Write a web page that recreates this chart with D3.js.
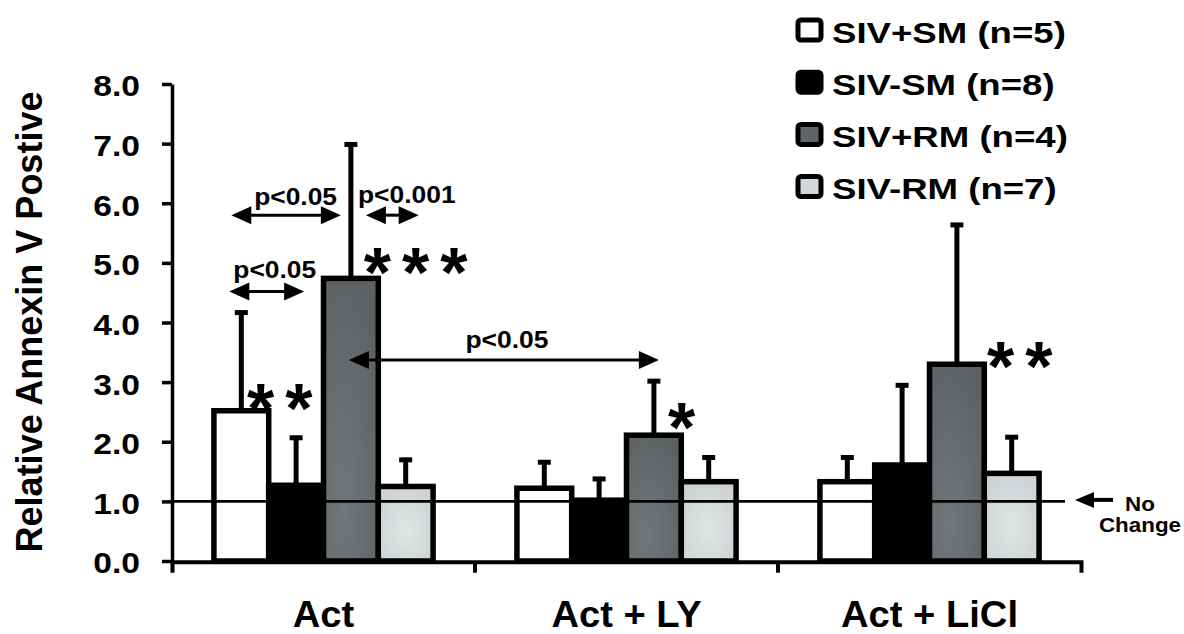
<!DOCTYPE html>
<html><head><meta charset="utf-8">
<script src="https://cdn.jsdelivr.net/npm/d3@7"></script>
<style>
body{margin:0;background:#fff}
svg{display:block}
text{font-family:"Liberation Sans",Arial,sans-serif;font-weight:bold;fill:#000}
</style>
</head><body>
<svg id="c" width="1184" height="634"></svg>
<script>
// ---------- data ----------
const categories = ["Act", "Act + LY", "Act + LiCl"];
const series = ["SIV+SM (n=5)", "SIV-SM (n=8)", "SIV+RM (n=4)", "SIV-RM (n=7)"];
const sivPlusSM  = [2.52, 1.22, 1.33];
const sivMinusSM = [1.27, 1.02, 1.61];
const sivPlusRM  = [4.74, 2.11, 3.30];
const sivMinusRM = [1.25, 1.33, 1.47];
const errPlusSM  = [1.68, 0.47, 0.44];
const errMinusSM = [0.83, 0.39, 1.37];
const errPlusRM  = [2.28, 0.94, 2.37];
const errMinusRM = [0.48, 0.44, 0.64];
const yTicks = [0, 1, 2, 3, 4, 5, 6, 7, 8];
const noChangeValue = 1.0;
const yTitle = "Relative Annexin V Postive";
const noChangeLabel = ["No", "Change"];
// comparisons: bar (category, series index) pairs, arrow height (y value), label
const comparisons = [
  {c1: "Act", s1: 0, c2: "Act", s2: 2, v: 5.80, label: "p<0.05"},
  {c1: "Act", s1: 2, c2: "Act", s2: 3, v: 5.80, label: "p<0.001"},
  {c1: "Act", s1: 0, c2: "Act", s2: 1, v: 4.52, label: "p<0.05"},
  {c1: "Act", s1: 2, c2: "Act + LY", s2: 2, v: 3.37, label: "p<0.05"}
];
// significance stars next to bars (y value of their centre)
const stars = [
  {c: "Act", s: 0, text: "**", v: 2.73},
  {c: "Act", s: 2, text: "***", v: 5.02},
  {c: "Act + LY", s: 2, text: "*", v: 2.42},
  {c: "Act + LiCl", s: 2, text: "**", v: 3.43}
];

const means = [sivPlusSM, sivMinusSM, sivPlusRM, sivMinusRM];
const errs = [errPlusSM, errMinusSM, errPlusRM, errMinusRM];

// ---------- layout ----------
const svg = d3.select("#c");
const x0 = d3.scaleBand().domain(categories).range([172, 1081]).padding(0);
const x1 = d3.scaleBand().domain(d3.range(series.length)).range([0, x0.bandwidth()])
  .paddingInner(0).paddingOuter(0.765);
const y = d3.scaleLinear().domain([0, 8]).range([561, 84]);
const cx = (c, s) => x0(c) + x1(s) + x1.bandwidth() / 2;

const defs = svg.append("defs");
const gDark = defs.append("radialGradient").attr("id", "gDark").attr("cx", "35%").attr("cy", "80%").attr("r", "90%");
gDark.append("stop").attr("offset", "0%").attr("stop-color", "#72777a");
gDark.append("stop").attr("offset", "100%").attr("stop-color", "#5b6062");
const gLight = defs.append("radialGradient").attr("id", "gLight").attr("cx", "50%").attr("cy", "60%").attr("r", "70%");
gLight.append("stop").attr("offset", "0%").attr("stop-color", "#e2e4e5");
gLight.append("stop").attr("offset", "100%").attr("stop-color", "#ccd0d2");
const fills = ["#ffffff", "#000000", "url(#gDark)", "url(#gLight)"];
const legendFills = ["#ffffff", "#000000", "#5f6466", "#d3d6d8"];

svg.append("rect").attr("width", 1184).attr("height", 634).attr("fill", "#fff");

const rows = [];
categories.forEach((c, i) => series.forEach((s, j) => rows.push({c, j, v: means[j][i], e: errs[j][i]})));

// bars
svg.append("g").selectAll("rect").data(rows).join("rect")
  .attr("x", d => x0(d.c) + x1(d.j))
  .attr("y", d => y(d.v))
  .attr("width", x1.bandwidth())
  .attr("height", d => y(0) - y(d.v))
  .attr("fill", d => fills[d.j])
  .attr("stroke", "#000").attr("stroke-width", 5.5);

// no change line
svg.append("line")
  .attr("x1", x0.range()[0]).attr("x2", x0.range()[1] - 16)
  .attr("y1", y(noChangeValue)).attr("y2", y(noChangeValue))
  .attr("stroke", "#000").attr("stroke-width", 2.6);

// error bars
const eg = svg.append("g").attr("stroke", "#000").attr("stroke-width", 5);
eg.selectAll("line.stem").data(rows).join("line").attr("class", "stem")
  .attr("x1", d => cx(d.c, d.j)).attr("x2", d => cx(d.c, d.j))
  .attr("y1", d => y(d.v) - 2).attr("y2", d => y(d.v + d.e));
eg.selectAll("line.cap").data(rows).join("line").attr("class", "cap")
  .attr("x1", d => cx(d.c, d.j) - 6.5).attr("x2", d => cx(d.c, d.j) + 6.5)
  .attr("y1", d => y(d.v + d.e) + 2).attr("y2", d => y(d.v + d.e) + 2);

// y axis
const yAxis = svg.append("g").attr("transform", "translate(172,0)")
  .call(d3.axisLeft(y).tickValues(yTicks).tickFormat(d3.format(".1f")).tickSize(10).tickSizeOuter(0));
yAxis.select(".domain").attr("stroke-width", 3.5);
yAxis.selectAll(".tick line").attr("stroke-width", 3.5);
yAxis.selectAll(".tick text")
  .attr("x", -32 / 1.16).attr("dy", "0.41em")
  .attr("transform", "scale(1.16,1)")
  .style("font-size", "29px").style("font-family", "Liberation Sans, Arial, sans-serif").style("font-weight", "bold");

// x axis
const xAxis = svg.append("g").attr("transform", `translate(0,${y(0) + 0.7})`)
  .call(d3.axisBottom(x0).tickSize(0).tickSizeOuter(11));
xAxis.select(".domain").attr("stroke-width", 4);
xAxis.selectAll(".tick text").remove();
xAxis.selectAll("line.bound").data(categories.slice(1)).join("line").attr("class", "bound")
  .attr("x1", d => x0(d)).attr("x2", d => x0(d)).attr("y1", 0).attr("y2", 11)
  .attr("stroke", "#000").attr("stroke-width", 4);
svg.append("g").selectAll("text").data(categories).join("text")
  .attr("transform", d => `translate(${x0(d) + x0.bandwidth() / 2},626.5) scale(1.06,1)`)
  .attr("text-anchor", "middle").style("font-size", "36px")
  .text(d => d);

// y title
svg.append("text")
  .attr("transform", `translate(41.5,${(y(0) + y(8)) / 2 - 0.5}) rotate(-90)`)
  .attr("text-anchor", "middle").style("font-size", "36px")
  .text(yTitle);

// comparison arrows
const headL = 20, headW = 9;
function arrowHead(g, tipX, yy, dir) {
  g.append("path").attr("d", `M${tipX},${yy}L${tipX + dir * headL},${yy - headW}L${tipX + dir * headL},${yy + headW}Z`)
    .attr("fill", "#000");
}
const offs = [[-10, -10, 9.5, 10], [15, 13, 14.5, 12], [-12, 8, 8, 13.5], [-2, 5, 3, 12]];
const ag = svg.append("g");
comparisons.forEach((cmp, i) => {
  const xa = cx(cmp.c1, cmp.s1) + offs[i][0];
  const xb = cx(cmp.c2, cmp.s2) + offs[i][1];
  const yy = y(cmp.v);
  ag.append("line").attr("x1", xa + headL - 2).attr("x2", xb - headL + 2).attr("y1", yy).attr("y2", yy)
    .attr("stroke", "#000").attr("stroke-width", 3);
  arrowHead(ag, xa, yy, 1);
  arrowHead(ag, xb, yy, -1);
  ag.append("text")
    .attr("transform", `translate(${(xa + xb) / 2 + offs[i][2]},${yy - offs[i][3]}) scale(1.1,1)`)
    .attr("text-anchor", "middle").style("font-size", "24px").text(cmp.label);
});

// stars
const starDx = [8.7, 15.8, 17, 33];
svg.append("g").selectAll("text").data(stars).join("text")
  .attr("x", (d, i) => cx(d.c, d.s) + starDx[i] - 3)
  .attr("y", d => y(d.v) + 35)
  .style("font-size", "70px").style("font-weight", "bold").style("letter-spacing", "11px")
  .text(d => d.text);

// no change marker
const xe = x0.range()[1];
const ny = y(noChangeValue) - 1.5;
svg.append("line").attr("x1", xe + 10).attr("x2", xe + 32).attr("y1", ny).attr("y2", ny)
  .attr("stroke", "#000").attr("stroke-width", 4);
svg.append("path").attr("d", `M${xe - 6},${ny}L${xe + 13},${ny - 8}L${xe + 13},${ny + 8}Z`).attr("fill", "#000");
svg.append("g").selectAll("text").data(noChangeLabel).join("text")
  .attr("transform", (d, i) => `translate(${xe + 59},${510.5 + i * 21}) scale(1.12,1)`)
  .attr("text-anchor", "middle").style("font-size", "20px").text(d => d);

// legend
const lg = svg.append("g").selectAll("g").data(series).join("g")
  .attr("transform", (d, i) => `translate(0,${i * 52.2})`);
lg.append("rect").attr("x", 798).attr("y", 20).attr("width", 23).attr("height", 20).attr("rx", 3)
  .attr("fill", (d, i) => legendFills[i]).attr("stroke", "#000").attr("stroke-width", 5);
lg.append("text").attr("transform", "translate(832,42.7) scale(1.22,1)")
  .style("font-size", "30px").text(d => d);
</script>
</body></html>
